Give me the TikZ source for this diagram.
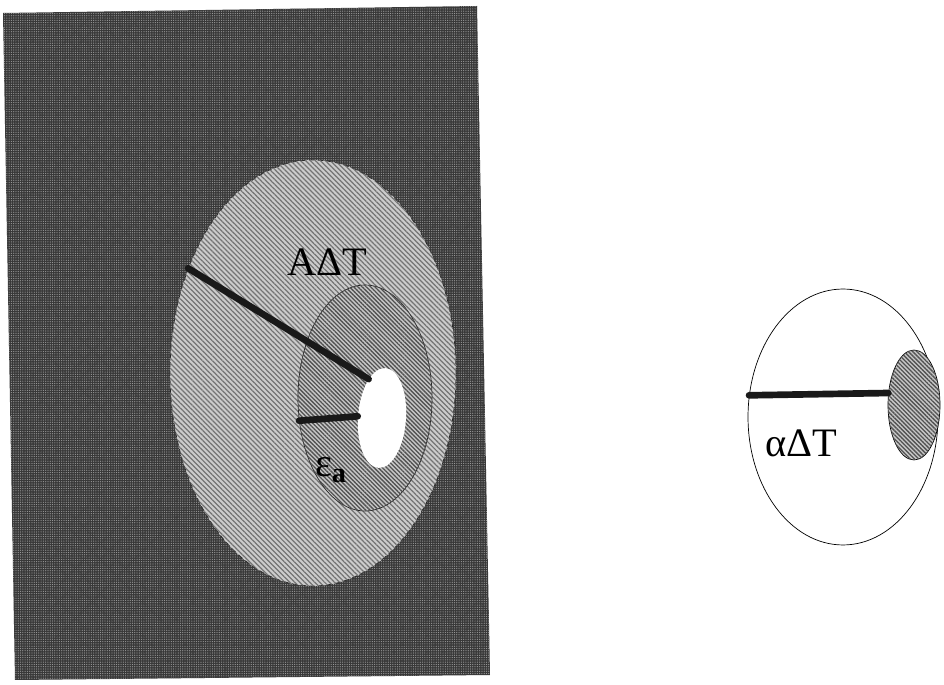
\documentclass[tikz,border=0pt]{standalone}
\usepackage{fontspec}
\setmainfont{Liberation Serif}
\usepackage{tikz}
\usetikzlibrary{positioning}
\usetikzlibrary{shapes.geometric}
\usetikzlibrary{patterns.meta}

\tikzset{
  zone/.style={draw=black!85, shape=ellipse, inner sep=0pt},
  hatchlight/.style={fill=black!20, postaction={pattern={Lines[angle=-45, distance=2pt, line width=0.7pt]}, pattern color=black!55}},
  hatchdark/.style={fill=black!22, postaction={pattern={Lines[angle=-45, distance=1.7pt, line width=0.75pt]}, pattern color=black!68}},
  radius line/.style={line width=3.8pt, line cap=round, black!90},
  label text/.style={font=\fontsize{23}{25}\selectfont, inner sep=1pt}
}

\begin{document}
\begin{tikzpicture}[x=0.02cm, y=-0.02cm]
			\useasboundingbox (0,0) rectangle (944,685);
			% dark block
			\fill[black!78, postaction={pattern={Dots[distance=1.3pt, radius=0.35pt]}, pattern color=black!40}] (3,13) -- (477,6) -- (490,675) -- (15,680) -- cycle;

			\node[zone, hatchlight, densely dashed, minimum width=5.72cm, minimum height=8.52cm] (outer) at (313,373) {};
			\node[zone, hatchdark, thin, minimum width=2.68cm, minimum height=4.52cm] (mid) at (365,398) {};
			\node[zone, fill=white, draw=none, minimum width=0.96cm, minimum height=2.0cm, rotate=-4] (hole) at (382,418) {};

			\draw[radius line] (outer.140) -- (hole.113);
			\draw[radius line] (mid.199) -- (hole.180);

			\node[label text] (adt) at (327,262) {AΔT};
			\node[label text] (eps) at (331,470) {ε\textsubscript{\textbf{a}}};

			% right part
			\node[zone, draw=black, fill=white, minimum width=3.8cm, minimum height=5.12cm] (grain) at (843,417) {};
			\node[zone, hatchdark, draw=black, minimum width=1.04cm, minimum height=2.2cm] (core) at (914,405) {};
			\draw[radius line] (grain.167) -- (core.155);
			\node[label text] (alpha) at (801,443) {αΔT};
		\end{tikzpicture}
\end{document}
